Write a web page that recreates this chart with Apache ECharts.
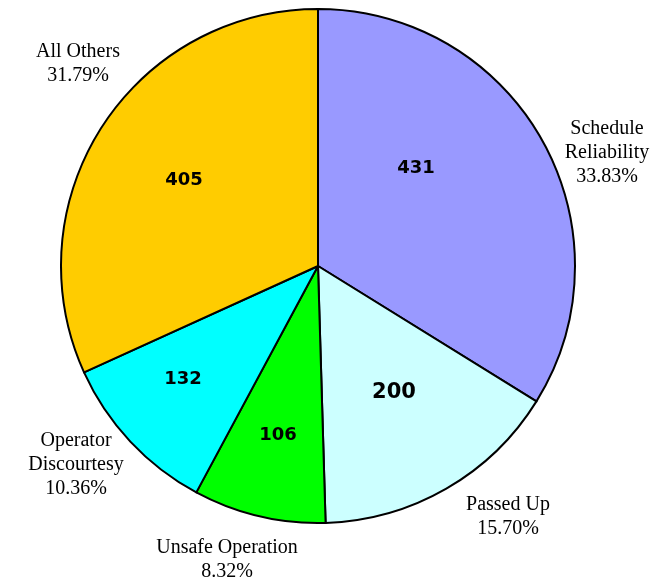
<!DOCTYPE html>
<html>
<head>
<meta charset="utf-8">
<script src="https://cdn.jsdelivr.net/npm/echarts@6/dist/echarts.min.js"></script>
<style>
  html, body { margin: 0; padding: 0; background: #fff; }
  #chart { width: 665px; height: 586px; }
</style>
</head>
<body>
<div id="chart"></div>
<script>
'use strict'

// 投诉分类
var categories = ['Schedule Reliability', 'Passed Up', 'Unsafe Operation', 'Operator Discourtesy', 'All Others'];
var counts = [431, 200, 106, 132, 405];
var outerNames = ['Schedule\nReliability', 'Passed Up', 'Unsafe Operation', 'Operator\nDiscourtesy', 'All Others'];

var colors = ['#9999FF', '#CCFFFF', '#00FF00', '#00FFFF', '#FFCC00'];

// label spots (as in the original layout)
var innerPos = [[416, 168], [394, 393], [278, 435], [183, 379], [184, 180]];
var innerSize = [18, 21, 18, 18, 18];
var outerPos = [[607, 153], [508, 517], [227, 560], [76, 465], [78, 64]];

var total = 0;
for (var i = 0; i < counts.length; i++) total += counts[i];

var pieData = [];
var outerData = [];
for (var i = 0; i < categories.length; i++) {
    pieData.push({
        name: categories[i],
        value: counts[i],
        itemStyle: { color: colors[i] },
        label: { fontSize: innerSize[i] }
    });
    outerData.push({ name: outerNames[i], value: counts[i] });
}

var myChart = echarts.init(document.getElementById('chart'));

var option = {
    backgroundColor: '#ffffff',
    animation: false,
    series: [{
        type: 'pie',
        center: [318, 266],
        radius: 257,
        startAngle: 90,
        data: pieData,
        itemStyle: { borderColor: '#000', borderWidth: 2 },
        label: {
            position: 'inside',
            formatter: '{c}',
            color: '#000',
            fontWeight: 'bold',
            fontFamily: 'DejaVu Sans'
        },
        labelLine: { show: false },
        labelLayout: function (params) {
            var p = innerPos[params.dataIndex];
            return { x: p[0], y: p[1], align: 'center', verticalAlign: 'middle' };
        },
        emphasis: { disabled: true }
    }, {
        type: 'pie',
        center: [318, 266],
        radius: 257,
        startAngle: 90,
        silent: true,
        z: 1,
        data: outerData,
        itemStyle: { color: 'rgba(0,0,0,0)', borderWidth: 0 },
        label: {
            position: 'outside',
            formatter: function (p) {
                return p.name + '\n' + (p.value / total * 100).toFixed(2) + '%';
            },
            color: '#000',
            fontSize: 20,
            lineHeight: 24,
            align: 'center',
            overflow: 'none',
            width: 200,
            fontFamily: 'Liberation Serif'
        },
        labelLine: { show: false },
        labelLayout: function (params) {
            var p = outerPos[params.dataIndex];
            return { x: p[0], y: p[1], align: 'center', verticalAlign: 'middle' };
        }
    }]
};

myChart.setOption(option);
</script>
</body>
</html>
